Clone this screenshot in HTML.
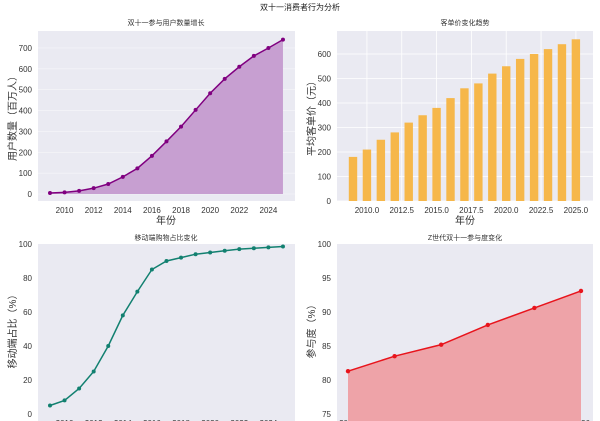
<!DOCTYPE html>
<html><head><meta charset="utf-8">
<style>
html,body{margin:0;padding:0;background:#fff;}
svg{display:block;font-family:"Liberation Sans","Noto Sans CJK SC",sans-serif;}
</style></head>
<body>
<svg id="s" width="600" height="421" viewBox="0 0 600 421" xmlns="http://www.w3.org/2000/svg">
<text x="300" y="10" font-size="8" text-anchor="middle" fill="#222">双十一消费者行为分析</text>
</svg>
<script>
const s=document.getElementById('s');let h='';
function t(x,y,str,fs,anc,extra){h+=`<text x="${x}" y="${y}" font-size="${fs}" text-anchor="${anc||'middle'}" fill="#333" ${extra||''}>${str}</text>`;}
function axes(x0,y0,x1,y1){h+=`<rect x="${x0}" y="${y0}" width="${x1-x0}" height="${y1-y0}" fill="#eaeaf2"/>`;}
// Plot 1
{const X=y=>50+(y-2009)*14.56,Y=v=>194-v*0.2086;
axes(38,31,295,201);
[0,100,200,300,400,500,600,700].forEach(v=>{h+=`<line x1="38" x2="295" y1="${Y(v)}" y2="${Y(v)}" stroke="#fff" stroke-width="0.6" opacity="0.6"/>`;t(32,Y(v)+3,v,8,'end');});
for(let y=2010;y<=2024;y+=2)t(X(y),213,y,8);
const d=[5,8,15,28,48,82,123,183,252,323,403,483,552,610,662,700,740];
let p=d.map((v,i)=>`${X(2009+i)},${Y(v)}`).join(' ');
h+=`<polygon points="${X(2009)},${Y(0)} ${p} ${X(2025)},${Y(0)}" fill="#c79fd1"/>`;
h+=`<polyline points="${p}" fill="none" stroke="#800080" stroke-width="1.5"/>`;
d.forEach((v,i)=>h+=`<circle cx="${X(2009+i)}" cy="${Y(v)}" r="2" fill="#800080"/>`);
t(166,25,'双十一参与用户数量增长',7);t(166,224,'年份',10);
t(0,0,'用户数量（百万人）',10,'middle','transform="translate(16,116) rotate(-90)"');}
// Plot 2
{const X=y=>353+(y-2009)*13.93,Y=v=>201-v*0.245;
axes(337,31,593,201);
[0,100,200,300,400,500,600].forEach(v=>{h+=`<line x1="337" x2="593" y1="${Y(v)}" y2="${Y(v)}" stroke="#fff" stroke-width="0.8"/>`;t(331,Y(v)+3,v,8,'end');});
[2010,2012.5,2015,2017.5,2020,2022.5,2025].forEach(y=>{h+=`<line y1="31" y2="201" x1="${X(y)}" x2="${X(y)}" stroke="#fff" stroke-width="0.8"/>`;t(X(y),213,y.toFixed(1),8);});
const d=[180,210,250,280,320,350,380,420,460,480,520,550,580,600,620,640,660];
d.forEach((v,i)=>h+=`<rect x="${X(2009+i)-4.2}" y="${Y(v)}" width="8.4" height="${v*0.245}" fill="#f6b74a"/>`);
t(465,25,'客单价变化趋势',7);t(465,224,'年份',10);
t(0,0,'平均客单价（元）',10,'middle','transform="translate(315,116) rotate(-90)"');}
// Plot 3
{const X=y=>50+(y-2009)*14.56,Y=v=>414-v*1.7;
axes(38,244,295,421);
[0,20,40,60,80,100].forEach(v=>{t(32,Y(v)+3,v,8,'end');});
for(let y=2010;y<=2024;y+=2)t(X(y),426,y,8);
const d=[5,8,15,25,40,58,72,85,90,92,94,95,96,97,97.5,98,98.5];
let p=d.map((v,i)=>`${X(2009+i)},${Y(v)}`).join(' ');
h+=`<polyline points="${p}" fill="none" stroke="#128070" stroke-width="1.5"/>`;
d.forEach((v,i)=>h+=`<circle cx="${X(2009+i)}" cy="${Y(v)}" r="2" fill="#128070"/>`);
t(166,240,'移动端购物占比变化',7);
t(0,0,'移动端占比（%）',10,'middle','transform="translate(16,329) rotate(-90)"');}
// Plot 4
{const X=y=>348+(y-2021)*46.6,Y=v=>414-(v-75)*6.8;
axes(337,244,593,421);
[75,80,85,90,95,100].forEach(v=>{t(331,Y(v)+3,v,8,'end');});
for(let y=2021;y<=2026;y++)t(X(y),426,y,8);
const d=[81.3,83.5,85.2,88.1,90.6,93.1];
let p=d.map((v,i)=>`${X(2021+i)},${Y(v)}`).join(' ');
h+=`<polygon points="${X(2021)},421 ${p} ${X(2026)},421" fill="#eea3a8"/>`;
h+=`<polyline points="${p}" fill="none" stroke="#e8141c" stroke-width="1.5"/>`;
d.forEach((v,i)=>h+=`<circle cx="${X(2021+i)}" cy="${Y(v)}" r="2.2" fill="#e8141c"/>`);
t(465,240,'Z世代双十一参与度变化',7);
t(0,0,'参与度（%）',10,'middle','transform="translate(315,329) rotate(-90)"');}
s.insertAdjacentHTML('beforeend',h);
</script>
</body></html>
